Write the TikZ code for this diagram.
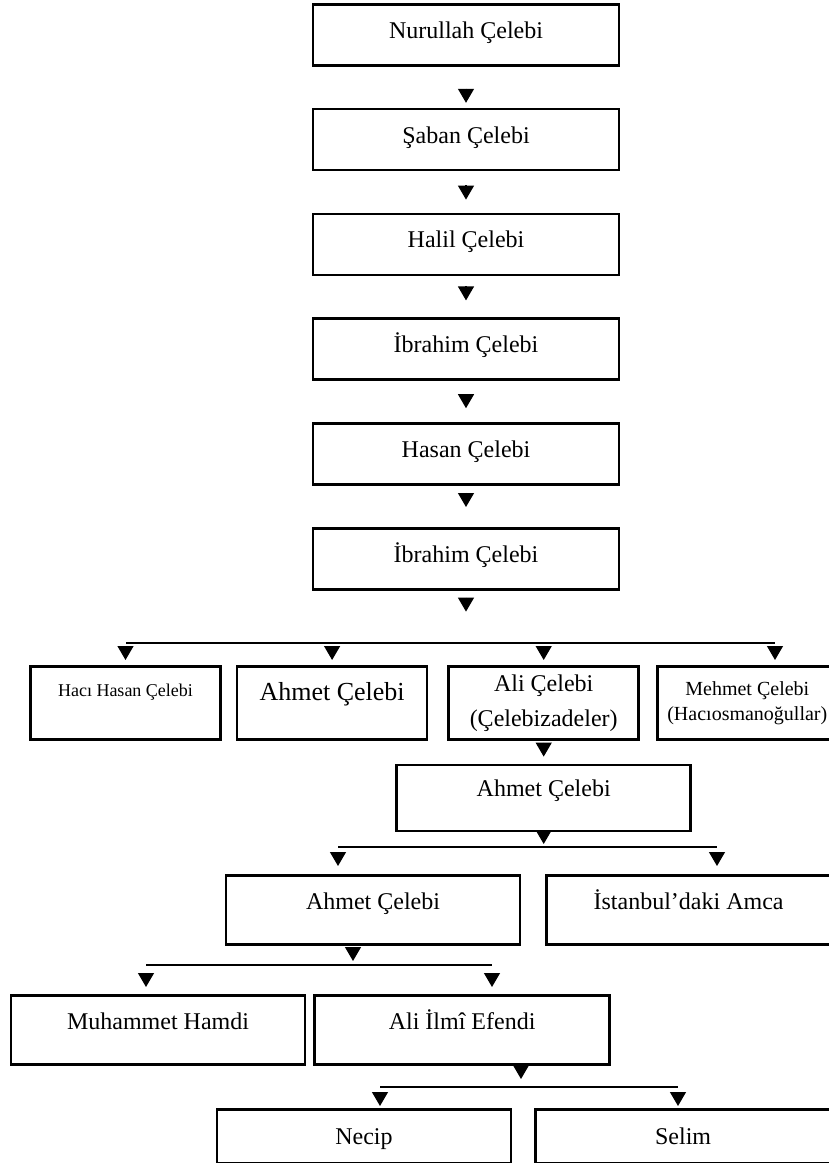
\documentclass[tikz,border=0pt]{standalone}
\usepackage{fontspec}
\setmainfont{Liberation Serif}
\usetikzlibrary{positioning,chains,arrows.meta,calc}

\begin{document}
\begin{tikzpicture}[x=0.5pt,y=-0.5pt,
box/.style={draw,line width=1.3pt,inner sep=0pt,align=center,font=\fontsize{12}{17.5}\selectfont},
one/.style={box,text height=17pt,text depth=#1},
drop/.style 2 args={-{Triangle[length=7pt,width=8pt]},line width=0.6pt,shorten <=#1,shorten >=#2},
bar/.style={line width=0.6pt}]
\useasboundingbox (0,0) rectangle (829,1163);

\begin{scope}[start chain=going below, node distance=20.6pt, every node/.style={one=13.5pt,minimum width=153pt}]
\node [on chain,anchor=north] at (466,3) (b1) {Nurullah Çelebi};
\node [on chain] (b2) {Şaban Çelebi};
\node [on chain] (b3) {Halil Çelebi};
\node [on chain] (b4) {İbrahim Çelebi};
\node [on chain] (b5) {Hasan Çelebi};
\node [on chain] (b6) {İbrahim Çelebi};
\end{scope}

\foreach \A/\B/\S/\E in {1/2/11pt/2.5pt,2/3/7pt/6.5pt,3/4/5pt/8.5pt,4/5/6.5pt/7pt,5/6/3.5pt/10pt}
{\draw[drop={\S}{\E}] (b\A) -- (b\B);}
\coordinate[below=10.5pt of b6] (b6e);
\draw[drop={3.5pt}{0pt}] (b6) -- (b6e);

% sons of Ibrahim
\coordinate (r1a) at (126,643);
\coordinate (r1b) at (775,643);
\draw[bar] (r1a) -- (r1b);
\node[one=21.5pt,text height=15pt,minimum width=95pt,font=\fontsize{9}{11}\selectfont,anchor=north] at (125.5,665) (hh) {Hacı Hasan Çelebi};
\node[one=19.5pt,minimum width=95pt,font=\fontsize{13}{16}\selectfont,right=7pt of hh] (ah) {Ahmet Çelebi};
\node[box,minimum width=95pt,minimum height=36.5pt,right=9.5pt of ah] (al) {Ali Çelebi\\(Çelebizadeler)};
\node[box,minimum width=90pt,minimum height=36.5pt,font=\fontsize{10}{12.5}\selectfont,right=8pt of al] (mc) {Mehmet Çelebi\\(Hacıosmanoğullar)};
\foreach \N in {hh,ah,al}
{\draw[drop={1.5pt}{2.5pt}] (\N.north |- r1a) -- (\N.north);}
\draw[drop={1.5pt}{2.5pt}] (r1b) -- (r1b |- mc.north);

\node[one=17pt,text height=16pt,minimum width=147pt,below=11.5pt of al] (ac) {Ahmet Çelebi};
\draw[drop={1pt}{3.5pt}] (al) -- (ac);

\coordinate (r2a) at (338,847);
\coordinate (r2b) at (717,847);
\draw[bar] (r2a) -- (r2b);
\draw[drop={0.5pt}{1.5pt}] (ac) -- (ac |- r2a);
\node[one=17.5pt,minimum width=147pt,anchor=north] at (373,874) (ac2) {Ahmet Çelebi};
\node[one=17.5pt,minimum width=142pt,right=12pt of ac2] (ia) {İstanbul’daki Amca};
\draw[drop={2.5pt}{4pt}] (r2a) -- (r2a |- ac2.north);
\draw[drop={2.5pt}{4pt}] (r2b) -- (r2b |- ia.north);

% sons of Ahmet
\coordinate (r3m) at (353,965);
\coordinate (r3a) at (146,965);
\coordinate (r3b) at (492,965);
\draw[drop={2pt}{2pt}] (r3m |- ac2.south) -- (r3m);
\draw[bar] (r3a) -- (r3b);
\node[one=17.5pt,minimum width=147pt,anchor=north] at (158,994) (mh) {Muhammet Hamdi};
\node[one=17.5pt,minimum width=147.5pt,right=3.5pt of mh] (ai) {Ali İlmî Efendi};
\draw[drop={4pt}{3.5pt}] (r3a) -- (r3a |- mh.north);
\draw[drop={4pt}{3.5pt}] (r3b) -- (r3b |- ai.north);

\coordinate (r4m) at (521,1087);
\coordinate (r4a) at (380,1087);
\coordinate (r4b) at (678,1087);
\draw[drop={1pt}{4pt}] (r4m |- ai.south) -- (r4m);
\draw[bar] (r4a) -- (r4b);
\node[one=9.5pt,text height=17.5pt,minimum width=147pt,anchor=north] at (364,1108) (nc) {Necip};
\node[one=9.5pt,text height=17.5pt,minimum width=147.5pt,right=11pt of nc] (sl) {Selim};
\draw[drop={2.5pt}{1pt}] (r4a) -- (r4a |- nc.north);
\draw[drop={2.5pt}{1pt}] (r4b) -- (r4b |- sl.north);
\end{tikzpicture}
\end{document}
